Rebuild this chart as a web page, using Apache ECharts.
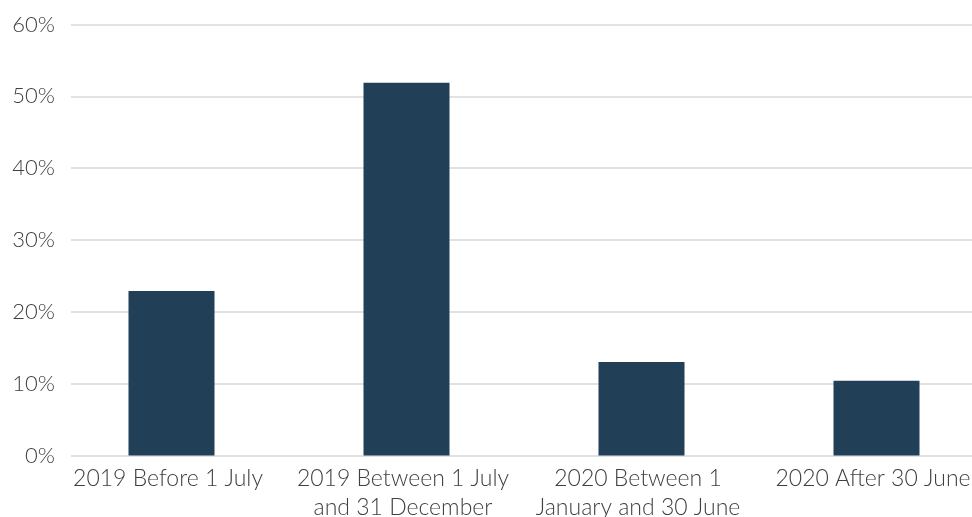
<!DOCTYPE html>
<html>
<head>
<meta charset="utf-8">
<script src="https://cdn.jsdelivr.net/npm/echarts@6/dist/echarts.min.js"></script>
<style>
  html, body { margin: 0; padding: 0; background: #ffffff; overflow: hidden; }
  #chart { width: 972px; height: 517px; }
</style>
</head>
<body>
<div id="chart"></div>
<script>
// Timing categories (wrapped as shown under the axis)
const categories = [
  '2019 Before 1 July',
  '2019 Between 1 July\nand 31 December',
  '2020 Between 1\nJanuary and 30 June',
  '2020 After 30 June'
];
// Share of respondents, percent
const shares = [22.9, 51.9, 13.0, 10.4];
// Value axis ticks
const yMin = 0;
const yMax = 60;
const yStep = 10;

const FONT = 'Lato, "Open Sans", sans-serif';
const TEXT = '#404040';

// Plot layout: gridlines start at GRID_LEFT, categories sit BAND px apart,
// the first one FIRST_OFFSET px in from the gridline start.
const GRID_LEFT = 71;
const PLOT_WIDTH = 972 - GRID_LEFT;
const BAND = 235;
const FIRST_OFFSET = 100.5;
const xMin = -FIRST_OFFSET / BAND;
const xMax = xMin + PLOT_WIDTH / BAND;

const chart = echarts.init(document.getElementById('chart'), null, { renderer: 'canvas' });

chart.setOption({
  animation: false,
  backgroundColor: '#ffffff',
  grid: {
    left: GRID_LEFT, right: 0, top: 24.5, bottom: 61.5,
    containLabel: false,
    outerBoundsMode: 'none'
  },
  xAxis: {
    type: 'value',
    min: xMin,
    max: xMax,
    axisLine: { show: false },
    axisTick: { show: false },
    splitLine: { show: false },
    axisLabel: {
      customValues: categories.map((_, i) => i),
      formatter: v => categories[Math.round(v)],
      showMinLabel: true,
      showMaxLabel: true,
      margin: 9,
      // right padding nudges the centred text slightly left of the bar centre
      padding: [0, 7, 0, 0],
      color: TEXT,
      fontFamily: FONT,
      fontWeight: 300,
      fontSize: 23,
      lineHeight: 29,
      align: 'center'
    }
  },
  yAxis: {
    type: 'value',
    min: yMin, max: yMax, interval: yStep,
    axisLine: { show: false },
    axisTick: { show: false },
    splitLine: { lineStyle: { color: '#d9d9d9', width: 1.5 } },
    axisLabel: {
      margin: 16,
      color: TEXT,
      fontFamily: FONT,
      fontWeight: 300,
      fontSize: 22,
      formatter: v => v + '%'
    }
  },
  series: [
    {
      type: 'bar',
      data: shares.map((v, i) => [i, v]),
      barWidth: 86,
      itemStyle: { color: '#213f57' }
    }
  ]
});
</script>
</body>
</html>
